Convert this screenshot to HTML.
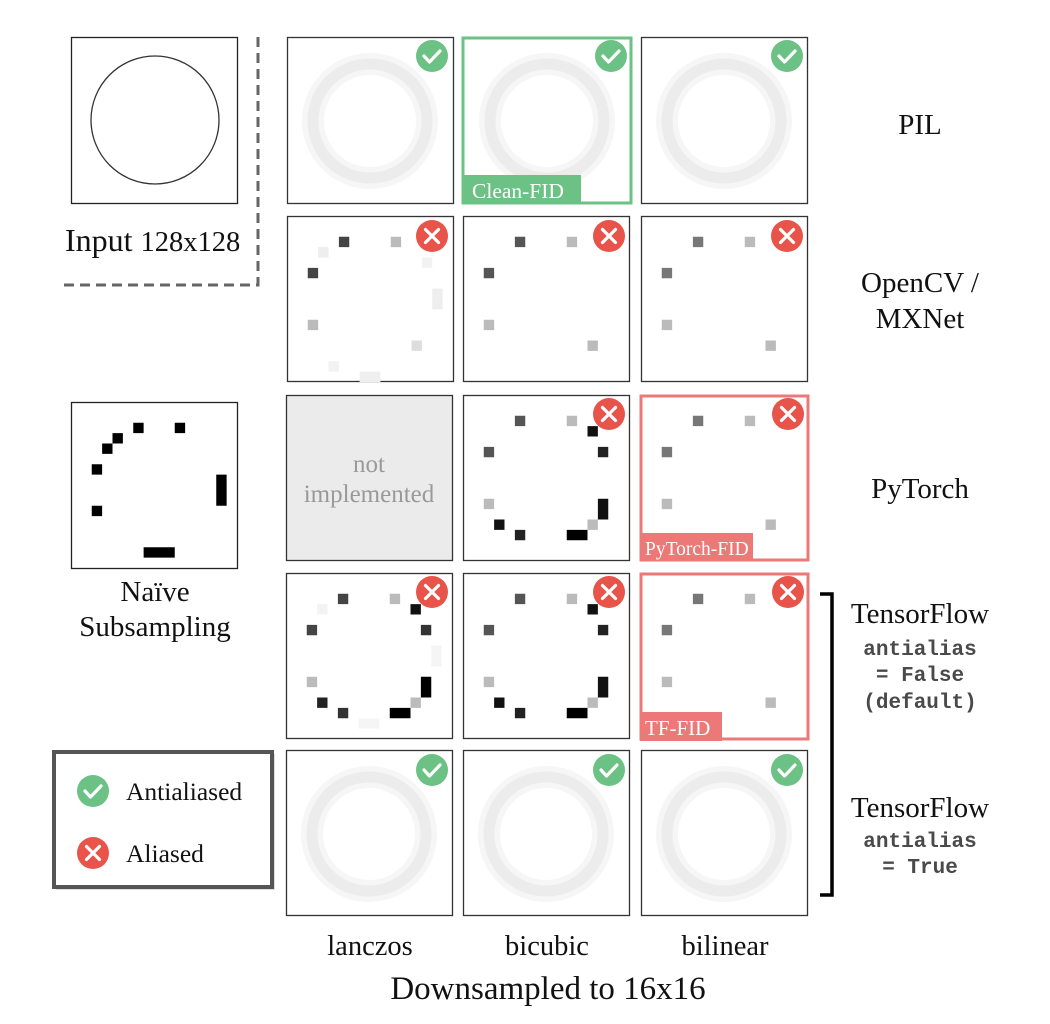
<!DOCTYPE html>
<html><head><meta charset="utf-8"><style>
html,body{margin:0;padding:0;background:#fff;width:1050px;height:1024px;overflow:hidden}
svg{display:block}
.s{font-family:"Liberation Serif",serif;fill:#111}
.m{font-family:"Liberation Mono",monospace;fill:#4a4a4a;font-weight:bold}
</style></head><body>
<svg width="1050" height="1024" viewBox="0 0 1050 1024" xmlns="http://www.w3.org/2000/svg">
<defs>
<g id="ring">
<circle cx="83" cy="84" r="57" fill="none" stroke="#f6f6f6" stroke-width="22"/>
<circle cx="83" cy="84" r="57" fill="none" stroke="#ececec" stroke-width="11"/>
</g>
<g id="ok"><circle r="16" fill="#6cc185"/><path d="M-8 0 L-2.5 6 L8 -5" fill="none" stroke="#fff" stroke-width="3.2" stroke-linecap="round" stroke-linejoin="round"/></g>
<g id="no"><circle r="16" fill="#e8534a"/><path d="M-6.5 -6.5 L6.5 6.5 M6.5 -6.5 L-6.5 6.5" stroke="#fff" stroke-width="3.2" stroke-linecap="round"/></g>
<g id="bic">
<rect x="5" y="2" width="1" height="1" fill="#555"/><rect x="10" y="2" width="1" height="1" fill="#bbb"/>
<rect x="12" y="3" width="1" height="1" fill="#111"/><rect x="2" y="5" width="1" height="1" fill="#555"/>
<rect x="13" y="5" width="1" height="1" fill="#222"/><rect x="2" y="10" width="1" height="1" fill="#bbb"/>
<rect x="13" y="10" width="1" height="2" fill="#111"/><rect x="12" y="12" width="1" height="1" fill="#bbb"/>
<rect x="3" y="12" width="1" height="1" fill="#111"/><rect x="5" y="13" width="1" height="1" fill="#222"/>
<rect x="10" y="13" width="2" height="1" fill="#000"/>
</g>
<g id="bil">
<rect x="5" y="2" width="1" height="1" fill="#777"/><rect x="10" y="2" width="1" height="1" fill="#bbb"/>
<rect x="2" y="5" width="1" height="1" fill="#777"/><rect x="2" y="10" width="1" height="1" fill="#bbb"/>
<rect x="12" y="12" width="1" height="1" fill="#bbb"/>
</g>
</defs>

<!-- Input -->
<rect x="71.5" y="37.5" width="166" height="166" fill="#fff" stroke="#222" stroke-width="1.3"/>
<circle cx="155" cy="120" r="64" fill="none" stroke="#333" stroke-width="1.3"/>
<text x="65" y="251" class="s" font-size="32">Input <tspan font-size="28.5">128x128</tspan></text>
<path d="M258 37 V285 H63" fill="none" stroke="#666" stroke-width="3" stroke-dasharray="10 6"/>

<!-- Row 1 PIL -->
<rect x="287.5" y="37.5" width="166" height="166" fill="#fff" stroke="#333" stroke-width="1.3"/>
<g transform="translate(287,37)"><use href="#ring"/></g>
<use href="#ok" x="432" y="56"/>
<g transform="translate(464,37)"><use href="#ring"/></g>
<rect x="463" y="38" width="168" height="165" fill="none" stroke="#6cc185" stroke-width="3"/>
<rect x="462" y="175" width="119" height="29" fill="#6cc185"/>
<text x="472" y="198" class="s" font-size="21.5" style="fill:#fff">Clean-FID</text>
<use href="#ok" x="611" y="56"/>
<rect x="641.5" y="37.5" width="166" height="166" fill="#fff" stroke="#333" stroke-width="1.3"/>
<g transform="translate(641,37)"><use href="#ring"/></g>
<use href="#ok" x="787" y="56"/>

<!-- Row 2 OpenCV -->
<rect x="287.5" y="216.5" width="166" height="165" fill="#fff" stroke="#333" stroke-width="1.3"/>
<g transform="translate(287,216) scale(10.375)">
<rect x="3" y="3" width="1" height="1" fill="#eee"/><rect x="13" y="4" width="1" height="1" fill="#f2f2f2"/>
<rect x="14" y="7" width="1" height="2" fill="#eee"/><rect x="4" y="14" width="1" height="1" fill="#f2f2f2"/>
<rect x="7" y="15" width="2" height="1" fill="#efefef"/>
<rect x="5" y="2" width="1" height="1" fill="#444"/><rect x="10" y="2" width="1" height="1" fill="#bbb"/>
<rect x="2" y="5" width="1" height="1" fill="#444"/><rect x="2" y="10" width="1" height="1" fill="#bbb"/>
<rect x="12" y="12" width="1" height="1" fill="#ddd"/>
</g>
<use href="#no" x="432" y="236"/>
<rect x="463.5" y="216.5" width="166" height="165" fill="#fff" stroke="#333" stroke-width="1.3"/>
<g transform="translate(463,216) scale(10.375)">
<rect x="5" y="2" width="1" height="1" fill="#555"/><rect x="10" y="2" width="1" height="1" fill="#bbb"/>
<rect x="2" y="5" width="1" height="1" fill="#555"/><rect x="2" y="10" width="1" height="1" fill="#bbb"/>
<rect x="12" y="12" width="1" height="1" fill="#bbb"/>
</g>
<use href="#no" x="609" y="236"/>
<rect x="641.5" y="216.5" width="166" height="165" fill="#fff" stroke="#333" stroke-width="1.3"/>
<g transform="translate(641,216) scale(10.375)"><use href="#bil"/></g>
<use href="#no" x="787" y="236"/>

<!-- Row 3 PyTorch -->
<rect x="286.5" y="395.5" width="166" height="165" fill="#ebebeb" stroke="#333" stroke-width="1.3"/>
<text x="369" y="472" class="s" font-size="25" text-anchor="middle" style="fill:#999">not</text>
<text x="369" y="502" class="s" font-size="25" text-anchor="middle" style="fill:#999">implemented</text>
<rect x="463.5" y="395.5" width="166" height="165" fill="#fff" stroke="#333" stroke-width="1.3"/>
<g transform="translate(463,395) scale(10.375)"><use href="#bic"/></g>
<use href="#no" x="609" y="414"/>
<rect x="641" y="396" width="167" height="164" fill="#fff" stroke="#ec7878" stroke-width="3"/>
<g transform="translate(641,395) scale(10.375)"><use href="#bil"/></g>
<rect x="640" y="533" width="113" height="28" fill="#ec7878"/>
<text x="645" y="555" class="s" font-size="19.5" style="fill:#fff">PyTorch-FID</text>
<use href="#no" x="788" y="414"/>

<!-- Naive -->
<rect x="71.5" y="402.5" width="166" height="166" fill="#fff" stroke="#222" stroke-width="1.3"/>
<g transform="translate(71,402) scale(10.375)" fill="#000">
<rect x="6" y="2" width="1" height="1"/><rect x="10" y="2" width="1" height="1"/>
<rect x="4" y="3" width="1" height="1"/><rect x="3" y="4" width="1" height="1"/>
<rect x="2" y="6" width="1" height="1"/><rect x="2" y="10" width="1" height="1"/>
<rect x="14" y="7" width="1" height="3"/><rect x="7" y="14" width="3" height="1"/>
</g>
<text x="155" y="601" class="s" font-size="29" text-anchor="middle">Naïve</text>
<text x="155" y="636" class="s" font-size="29" text-anchor="middle">Subsampling</text>

<!-- Row 4 TF -->
<rect x="286.5" y="573.5" width="166" height="165" fill="#fff" stroke="#333" stroke-width="1.3"/>
<g transform="translate(286,573) scale(10.375)">
<rect x="3" y="3" width="1" height="1" fill="#f3f3f3"/><rect x="14" y="7" width="1" height="2" fill="#f5f5f5"/>
<rect x="7" y="14" width="2" height="1" fill="#f5f5f5"/>
<rect x="5" y="2" width="1" height="1" fill="#444"/><rect x="10" y="2" width="1" height="1" fill="#bbb"/>
<rect x="12" y="3" width="1" height="1" fill="#111"/><rect x="2" y="5" width="1" height="1" fill="#444"/>
<rect x="13" y="5" width="1" height="1" fill="#333"/><rect x="2" y="10" width="1" height="1" fill="#bbb"/>
<rect x="13" y="10" width="1" height="2" fill="#000"/><rect x="12" y="12" width="1" height="1" fill="#bbb"/>
<rect x="3" y="12" width="1" height="1" fill="#222"/><rect x="5" y="13" width="1" height="1" fill="#333"/>
<rect x="10" y="13" width="2" height="1" fill="#000"/>
</g>
<use href="#no" x="432" y="592"/>
<rect x="463.5" y="573.5" width="166" height="165" fill="#fff" stroke="#333" stroke-width="1.3"/>
<g transform="translate(463,573) scale(10.375)"><use href="#bic"/></g>
<use href="#no" x="609" y="592"/>
<rect x="641" y="574" width="167" height="165" fill="#fff" stroke="#ec7878" stroke-width="3"/>
<g transform="translate(641,573) scale(10.375)"><use href="#bil"/></g>
<rect x="640" y="712" width="82" height="29" fill="#ec7878"/>
<text x="645" y="735" class="s" font-size="21" style="fill:#fff">TF-FID</text>
<use href="#no" x="788" y="592"/>

<!-- Row 5 -->
<rect x="286.5" y="750.5" width="166" height="165" fill="#fff" stroke="#333" stroke-width="1.3"/>
<g transform="translate(286,750)"><use href="#ring"/></g>
<use href="#ok" x="432" y="770"/>
<rect x="463.5" y="750.5" width="166" height="165" fill="#fff" stroke="#333" stroke-width="1.3"/>
<g transform="translate(463,750)"><use href="#ring"/></g>
<use href="#ok" x="609" y="770"/>
<rect x="641.5" y="750.5" width="166" height="165" fill="#fff" stroke="#333" stroke-width="1.3"/>
<g transform="translate(641,750)"><use href="#ring"/></g>
<use href="#ok" x="787" y="770"/>

<!-- Legend -->
<rect x="56" y="754" width="219" height="136" fill="#bbb" opacity="0.5"/>
<rect x="54" y="752" width="218" height="135" fill="#fff" stroke="#555" stroke-width="4"/>
<use href="#ok" x="93" y="791"/>
<use href="#no" x="93" y="853"/>
<text x="126" y="800" class="s" font-size="25.5">Antialiased</text>
<text x="126" y="862" class="s" font-size="25.5">Aliased</text>

<!-- Right labels -->
<text x="920" y="134" class="s" font-size="29" text-anchor="middle">PIL</text>
<text x="920" y="292" class="s" font-size="29" text-anchor="middle">OpenCV /</text>
<text x="920" y="328" class="s" font-size="29" text-anchor="middle">MXNet</text>
<text x="920" y="498" class="s" font-size="29" text-anchor="middle">PyTorch</text>
<text x="920" y="623" class="s" font-size="29" text-anchor="middle">TensorFlow</text>
<text x="920" y="655" class="m" font-size="21" text-anchor="middle">antialias</text>
<text x="920" y="681" class="m" font-size="21" text-anchor="middle">= False</text>
<text x="920" y="708" class="m" font-size="21" text-anchor="middle">(default)</text>
<text x="920" y="817" class="s" font-size="29" text-anchor="middle">TensorFlow</text>
<text x="920" y="847" class="m" font-size="21" text-anchor="middle">antialias</text>
<text x="920" y="873" class="m" font-size="21" text-anchor="middle">= True</text>
<path d="M820 594 H832 V895 H820" fill="none" stroke="#000" stroke-width="3.5"/>

<!-- Bottom -->
<text x="370" y="955" class="s" font-size="28.5" text-anchor="middle">lanczos</text>
<text x="547" y="955" class="s" font-size="28.5" text-anchor="middle">bicubic</text>
<text x="725" y="955" class="s" font-size="28.5" text-anchor="middle">bilinear</text>
<text x="548" y="999" class="s" font-size="33" text-anchor="middle">Downsampled to 16x16</text>
</svg>
</body></html>
